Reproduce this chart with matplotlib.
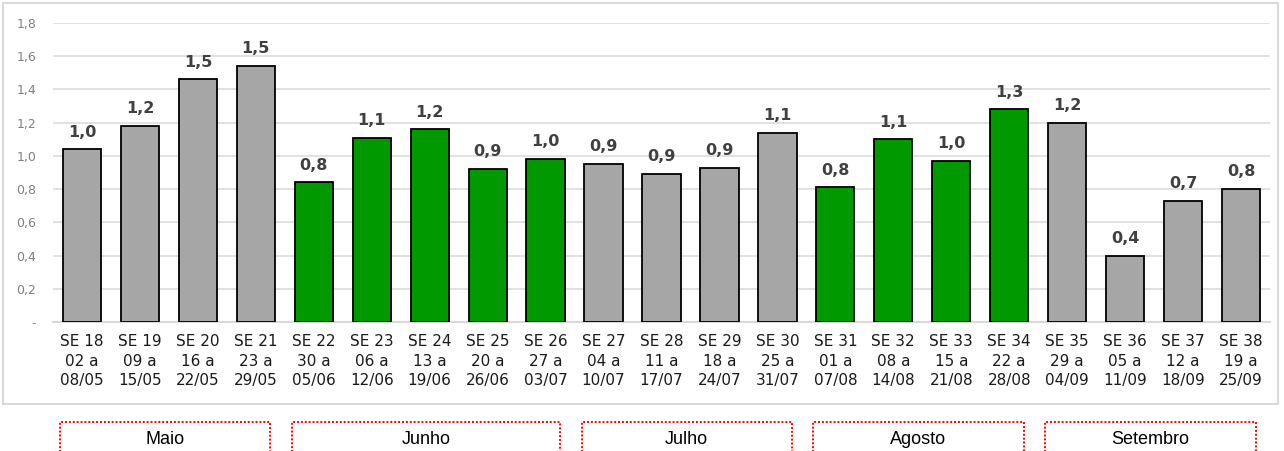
import matplotlib.pyplot as plt
from matplotlib.patches import Rectangle
from matplotlib.transforms import blended_transform_factory

weeks = ["SE 18\n02 a\n08/05", "SE 19\n09 a\n15/05", "SE 20\n16 a\n22/05", "SE 21\n23 a\n29/05",
         "SE 22\n30 a\n05/06", "SE 23\n06 a\n12/06", "SE 24\n13 a\n19/06", "SE 25\n20 a\n26/06",
         "SE 26\n27 a\n03/07", "SE 27\n04 a\n10/07", "SE 28\n11 a\n17/07", "SE 29\n18 a\n24/07",
         "SE 30\n25 a\n31/07", "SE 31\n01 a\n07/08", "SE 32\n08 a\n14/08", "SE 33\n15 a\n21/08",
         "SE 34\n22 a\n28/08", "SE 35\n29 a\n04/09", "SE 36\n05 a\n11/09", "SE 37\n12 a\n18/09",
         "SE 38\n19 a\n25/09"]
values = [1.04, 1.18, 1.46, 1.54, 0.84, 1.11, 1.16, 0.92, 0.98, 0.95, 0.89,
          0.93, 1.14, 0.81, 1.10, 0.97, 1.28, 1.20, 0.40, 0.73, 0.80]
highlight = [0, 0, 0, 0, 1, 1, 1, 1, 1, 0, 0, 0, 0, 1, 1, 1, 1, 0, 0, 0, 0]
months = ["Maio", "Junho", "Julho", "Agosto", "Setembro"]
month_weeks = [4, 5, 4, 4, 4]

W, H = 1284, 451
fig = plt.figure(figsize=(W / 100, H / 100), dpi=100)

# outer frame
fig.patches.append(Rectangle((3 / W, 1 - 404 / H), 1275 / W, 401 / H, transform=fig.transFigure,
                             fill=False, edgecolor="#D9D9D9", lw=1.5))

ax = fig.add_axes([53 / W, 1 - 322 / H, 1217 / W, 299 / H])
x = list(range(len(values)))
colors = ["#009900" if h else "#A6A6A6" for h in highlight]
bars = ax.bar(x, values, width=0.66, color=colors, edgecolor="black", linewidth=1.3, zorder=3)

for b, v in zip(bars, values):
    ax.annotate(f"{v:.1f}".replace(".", ","), (b.get_x() + b.get_width() / 2, v),
                xytext=(0, 7), textcoords="offset points", ha="center", va="bottom",
                fontsize=11.5, fontweight="bold", color="#404040")

ax.set_xlim(-0.5, len(values) - 0.5)
ax.set_ylim(0, 1.8)
yt = [0, 0.2, 0.4, 0.6, 0.8, 1.0, 1.2, 1.4, 1.6, 1.8]
ax.set_yticks(yt)
ax.set_yticklabels(["-"] + [f"{t:.1f}".replace(".", ",") for t in yt[1:]], color="#808080", fontsize=9)
ax.set_xticks(x)
ax.set_xticklabels(weeks, fontsize=11, color="#1a1a1a", linespacing=1.35)
ax.tick_params(axis="y", length=0, pad=12)
ax.tick_params(axis="x", length=0, pad=9)
ax.grid(axis="y", color="#D9D9D9", lw=1.1, zorder=0)
for s in ["top", "right", "left"]:
    ax.spines[s].set_visible(False)
ax.spines["bottom"].set_color("#D9D9D9")
ax.spines["bottom"].set_linewidth(1.5)

# month boxes below the chart
tr = blended_transform_factory(ax.transData, fig.transFigure)
top = 1 - 422 / H
start = 0
for name, n in zip(months, month_weeks):
    x0, x1 = start - 0.38, start + n - 1 + 0.25
    ax.plot([x0, x0, x1, x1], [-0.05, top, top, -0.05], transform=tr, clip_on=False,
            color="red", ls=(0, (1, 1)), lw=1.4)
    ax.text((x0 + x1) / 2, 1 - 439 / H, name, transform=tr, ha="center", va="center",
            fontsize=13, family="Liberation Sans", color="black")
    start += n

fig.savefig("out.png", dpi=100)
